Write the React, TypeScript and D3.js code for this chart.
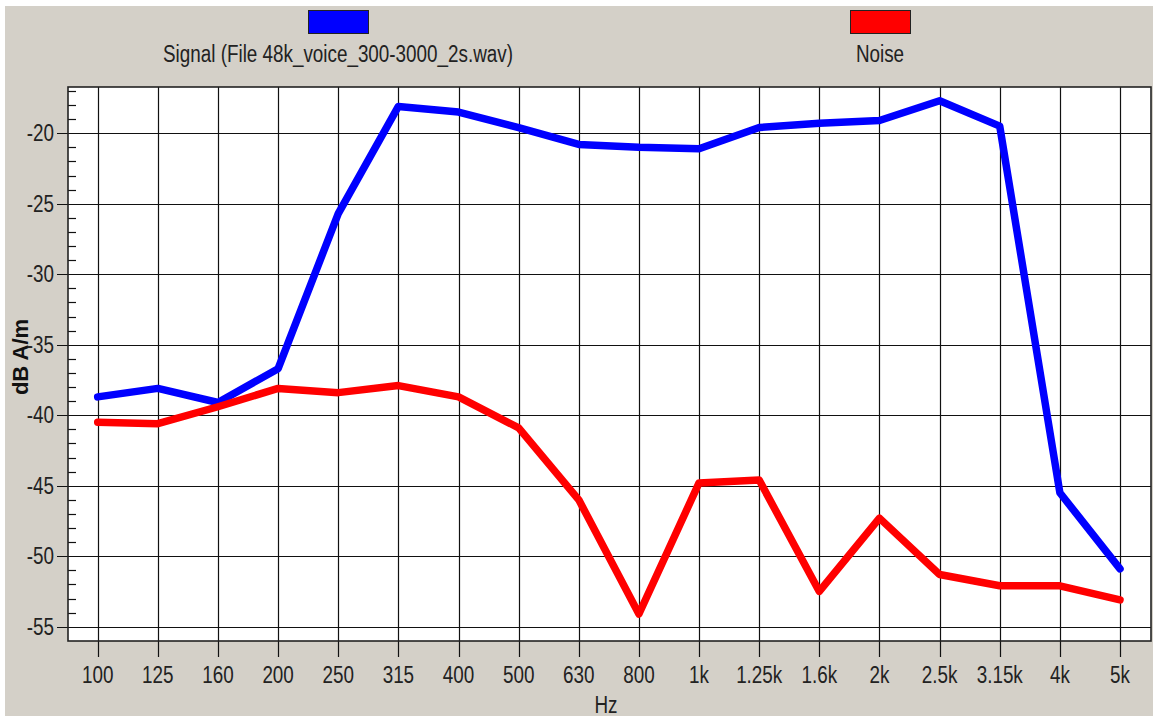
import React from "react";
import * as d3 from "d3";

const categories = ["100","125","160","200","250","315","400","500","630","800","1k","1.25k","1.6k","2k","2.5k","3.15k","4k","5k"];
const signalValues = [-38.7,-38.1,-39.1,-36.7,-25.7,-18.1,-18.5,-19.6,-20.8,-21.0,-21.1,-19.6,-19.3,-19.1,-17.7,-19.5,-45.5,-50.9];
const noiseValues = [-40.5,-40.6,-39.4,-38.1,-38.4,-37.9,-38.7,-40.9,-46.0,-54.1,-44.8,-44.6,-52.5,-47.3,-51.3,-52.1,-52.1,-53.1];
const yMajorTicks = [-20,-25,-30,-35,-40,-45,-50,-55];
const yMinorTicks = [-17,-18,-19,-21,-22,-23,-24,-26,-27,-28,-29,-31,-32,-33,-34,-36,-37,-38,-39,-41,-42,-43,-44,-46,-47,-48,-49,-51,-52,-53,-54];
const seriesNames = ["Signal (File 48k_voice_300-3000_2s.wav)", "Noise"];
const seriesColors = ["#0000ff", "#ff0000"];

const W = 1153, H = 722;
const left = 68, right = 1151, top = 87, bottom = 641;
const font = "'Liberation Sans', Arial, sans-serif";
const SX = 0.82;

function NText({ x, y, anchor, children, dy }: { x: number; y: number; anchor: string; children: any; dy?: string }) {
  return (
    <text transform={`translate(${x},${y}) scale(${SX},1)`} dy={dy} textAnchor={anchor} fontFamily={font} fontSize={23} fill="#222">{children}</text>
  );
}

export default function App() {
  const x = d3.scalePoint<string>().domain(categories).range([97.7, 1120]);
  const y = d3.scaleLinear().domain([-20, -55]).range([133.2, 626.7]);
  const line = d3.line<number>().x((_, i) => x(categories[i]) as number).y(v => y(v));
  return (
    <svg width={W} height={H} style={{ position: "absolute", left: 0, top: 0 }}>
      <rect x={0} y={0} width={W} height={H} fill="#ffffff" />
      <rect x={5} y={6} width={1148} height={710} fill="#d4d0c8" />
      <rect x={left} y={top} width={right - left} height={bottom - top} fill="#ffffff" />
      {yMajorTicks.map(t => (
        <line key={"h" + t} x1={57} x2={right} y1={Math.round(y(t)) + 0.5} y2={Math.round(y(t)) + 0.5} stroke="#111" strokeWidth={1.2} />
      ))}
      {yMinorTicks.map(t => (
        <line key={"m" + t} x1={left} x2={left + 8} y1={Math.round(y(t)) + 0.5} y2={Math.round(y(t)) + 0.5} stroke="#111" strokeWidth={1.2} />
      ))}
      {categories.map(c => (
        <line key={"v" + c} x1={Math.round(x(c) as number) + 0.5} x2={Math.round(x(c) as number) + 0.5} y1={top} y2={657} stroke="#111" strokeWidth={1.2} />
      ))}
      <rect x={left} y={top} width={right - left} height={bottom - top} fill="none" stroke="#222" strokeWidth={1.6} />
      <path d={line(signalValues) || ""} fill="none" stroke={seriesColors[0]} strokeWidth={7.5} strokeLinejoin="round" strokeLinecap="round" />
      <path d={line(noiseValues) || ""} fill="none" stroke={seriesColors[1]} strokeWidth={7.5} strokeLinejoin="round" strokeLinecap="round" />
      {yMajorTicks.map(t => (
        <NText key={"yl" + t} x={54} y={y(t)} dy="0.36em" anchor="end">{t}</NText>
      ))}
      {categories.map(c => (
        <NText key={"xl" + c} x={x(c) as number} y={683} anchor="middle">{c}</NText>
      ))}
      <NText x={606} y={713} anchor="middle">Hz</NText>
      <text transform="translate(28,357) rotate(-90)" textAnchor="middle" fontFamily={font} fontWeight="bold" fontSize={22} fill="#111">dB A/m</text>
      <rect x={308.5} y={10.5} width={60} height={23} fill={seriesColors[0]} stroke="#222" strokeWidth={1} />
      <NText x={338} y={62} anchor="middle">{seriesNames[0]}</NText>
      <rect x={850.5} y={10.5} width={60} height={23} fill={seriesColors[1]} stroke="#222" strokeWidth={1} />
      <NText x={880} y={62} anchor="middle">{seriesNames[1]}</NText>
    </svg>
  );
}
